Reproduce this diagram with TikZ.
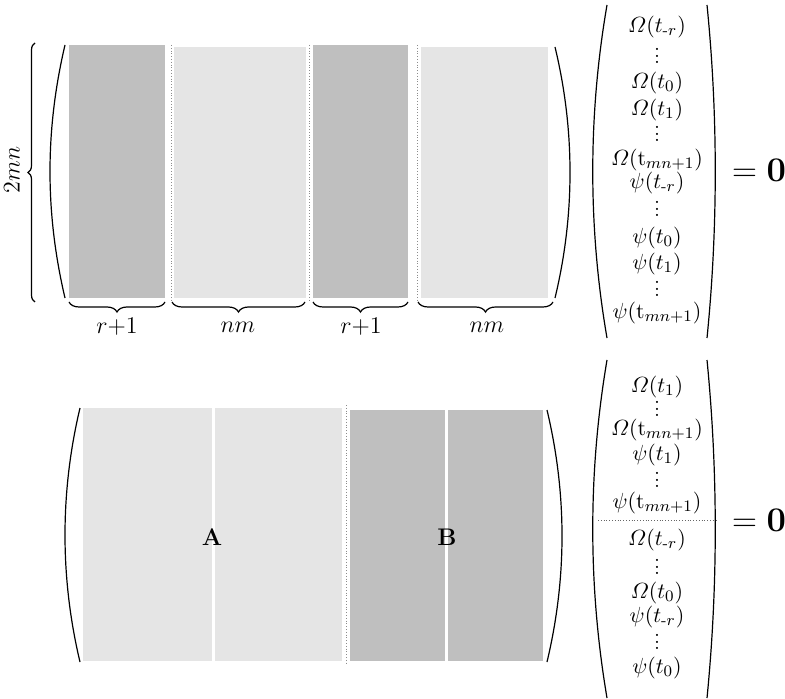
\documentclass[tikz,border=0pt]{standalone}
\usepackage{amsmath}
\usetikzlibrary{decorations.pathreplacing}
\newcommand{\tneg}{t_{\text{-}r}}
\newcommand{\tlast}{\mathrm{t}_{mn+1}}
\newcommand{\vdt}{\vbox{\baselineskip=3.4pt\lineskiplimit=0pt\hbox{.}\hbox{.}\hbox{.}}}
\tikzset{
  darkblk/.style={fill=black!25},
  lightblk/.style={fill=black!10},
  paren/.style={line width=0.6pt},
  brc/.style={decorate,decoration={brace,amplitude=#1},line width=0.6pt},
  brc/.default=5pt,
  sep/.style={densely dotted,black!45,line width=0.4pt},
  entry/.style={font=\fontsize{11}{13}\selectfont,inner sep=0pt},
  rhs/.style={font=\LARGE,inner sep=0pt},
}
\begin{document}
\begin{tikzpicture}[x=0.5pt,y=-0.5pt]
\useasboundingbox (0,0) rectangle (785,699);

% upper system
\fill[darkblk] (69,45) rectangle (165,298);
\fill[lightblk] (174,47) rectangle (306,298);
\fill[darkblk] (313,45) rectangle (408,298);
\fill[lightblk] (421,47) rectangle (548,298);
\foreach \x in {171,309,417}
    \draw[sep] (\x,45) -- (\x,300);
\draw[paren] (65,45) .. controls (45,130) and (45,213) .. (65,298);
\draw[paren] (555,47) .. controls (575,130) and (575,215) .. (555,298);

\draw[brc=3.5pt] (35,302) -- (35,43);
\node[rotate=90] (rows) at (12,170) {\large $2mn$};

\draw[brc] (165,302) -- (69,302);
\draw[brc] (305,302) -- (172,302);
\draw[brc] (408,302) -- (313,302);
\draw[brc] (553,302) -- (418,302);
\node (w1) at (117,327) {\large $r{+}1$};
\node (w2) at (238,327) {\large $nm$};
\node (w3) at (361,327) {\large $r{+}1$};
\node (w4) at (487,327) {\large $nm$};

\draw[paren] (607,5) .. controls (588,115) and (588,228) .. (607,338);
\draw[paren] (707,5) .. controls (718,115) and (718,228) .. (707,338);
\foreach \y/\e [count=\i] in {27/{$\varOmega(\tneg)$},56/{\vdt},83/{$\varOmega(t_0)$},
    110/{$\varOmega(t_1)$},134/{\vdt},160/{$\varOmega(\tlast)$},183/{$\psi(\tneg)$},
    209/{\vdt},238/{$\psi(t_0)$},264/{$\psi(t_1)$},289/{\vdt},313/{$\psi(\tlast)$}}
    \node[entry] (u\i) at (657,\y) {\e};
\node[rhs] (z1) at (759,170) {$=\mathbf{0}$};

% lower system
\fill[lightblk] (83,408) rectangle (342,661);
\fill[darkblk] (350,410) rectangle (543,661);
\draw[white,line width=1.5pt] (213,408) -- (213,661);
\draw[white,line width=1.5pt] (446,410) -- (446,661);
\draw[sep] (346,405) -- (346,663);
\draw[paren] (80,408) .. controls (60,492) and (60,578) .. (80,662);
\draw[paren] (547,410) .. controls (567,494) and (567,578) .. (547,662);
\node (A) at (212,537) {\large\bfseries A};
\node (B) at (447,537) {\large\bfseries B};

\draw[paren] (607,360) .. controls (588,472) and (588,586) .. (607,698);
\draw[paren] (707,360) .. controls (718,472) and (718,586) .. (707,698);
\foreach \y/\e [count=\i] in {387/{$\varOmega(t_1)$},409/{\vdt},430/{$\varOmega(\tlast)$},
    455/{$\psi(t_1)$},480/{\vdt},503/{$\psi(\tlast)$},540/{$\varOmega(\tneg)$},
    567/{\vdt},593/{$\varOmega(t_0)$},617/{$\psi(\tneg)$},642/{\vdt},668/{$\psi(t_0)$}}
    \node[entry] (v\i) at (657,\y) {\e};
\draw[sep,black!60] (598,520) -- (716,520);
\node[rhs] (z2) at (759,520) {$=\mathbf{0}$};
\end{tikzpicture}
\end{document}
